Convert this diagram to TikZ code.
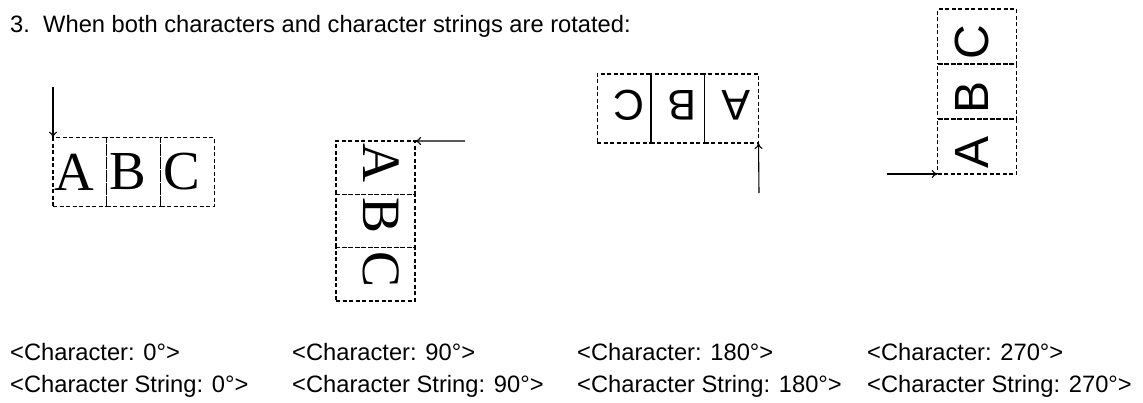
\documentclass[tikz,border=0pt]{standalone}
\usepackage{fontspec}
\setmainfont{Liberation Sans}
\newfontfamily\serifrm{Liberation Serif}
\usepackage{tikz}
\usetikzlibrary{arrows.meta,positioning}

\begin{document}
\begin{tikzpicture}[x=1pt, y=-1pt, >={To[length=6pt,width=8pt]},
    box/.style={rectangle, draw, line width=1.2pt, dash pattern=on 4pt off 2.5pt, inner sep=0pt, outer sep=0pt},
    wide/.style={box, minimum width=53.8pt, minimum height=68.5pt},
    tall/.style={box, minimum width=79pt, minimum height=54pt},
    serifch/.style={font=\serifrm\fontsize{55}{55}\selectfont, inner sep=0pt},
    sansch/.style={font=\fontsize{43}{43}\selectfont, inner sep=0pt},
    lbl/.style={font=\fontsize{23.7}{28}\selectfont, anchor=base west, inner sep=0pt},
    arr/.style={->, line width=1.1pt}]
    \useasboundingbox (0,0) rectangle (1143,402);

    \node [lbl] (num) at (10,32) {3.};
    \node [lbl] (title) at (43,32) {When both characters and character strings are rotated:};

    \node [wide] (a1) at (79.9,172) {};
    \node [wide, right=0pt of a1] (a2) {};
    \node [wide, right=0pt of a2] (a3) {};
    \node [serifch] (ta1) at ([xshift=-6pt]a1.center) {A};
    \node [serifch] (ta2) at ([xshift=-6pt]a2.center) {B};
    \node [serifch] (ta3) at ([xshift=-6pt]a3.center) {C};

    \node [tall, minimum height=53.3pt] (b1) at (375.5,167.7) {};
    \node [tall, minimum height=53.3pt, below=0pt of b1] (b2) {};
    \node [tall, minimum height=53.3pt, below=0pt of b2] (b3) {};
    \node [serifch, font=\serifrm\fontsize{54}{54}\selectfont, rotate=-90] (tb1) at ([xshift=5.5pt,yshift=5pt]b1.center) {A};
    \node [serifch, font=\serifrm\fontsize{54}{54}\selectfont, rotate=-90] (tb2) at ([xshift=5.5pt,yshift=5pt]b2.center) {B};
    \node [serifch, font=\serifrm\fontsize{54}{54}\selectfont, rotate=-90] (tb3) at ([xshift=5.5pt,yshift=5pt]b3.center) {C};

    \node [wide, minimum height=69pt] (c1) at (624,108.5) {};
    \node [wide, minimum height=69pt, right=0pt of c1] (c2) {};
    \node [wide, minimum height=69pt, right=0pt of c2] (c3) {};
    \draw [line width=1.1pt] (c1.north east) -- (c1.south east);
    \draw [line width=1.1pt] (c2.north east) -- (c2.south east);
    \node [sansch, rotate=180] (tc1) at ([xshift=4.5pt,yshift=3pt]c1.center) {C};
    \node [sansch, rotate=180] (tc2) at ([xshift=4.5pt,yshift=3pt]c2.center) {B};
    \node [sansch, rotate=180] (tc3) at ([xshift=4.5pt,yshift=3pt]c3.center) {A};

    \node [tall, minimum height=55pt] (d1) at (977.2,146.5) {};
    \node [tall, minimum height=55pt, above=0pt of d1] (d2) {};
    \node [tall, minimum height=55pt, above=0pt of d2] (d3) {};
    \node [sansch, font=\fontsize{48}{48}\selectfont, rotate=90] (td1) at ([xshift=-5pt,yshift=-6pt]d1.center) {A};
    \node [sansch, font=\fontsize{48}{48}\selectfont, rotate=90] (td2) at ([xshift=-5pt,yshift=-6pt]d2.center) {B};
    \node [sansch, font=\fontsize{48}{48}\selectfont, rotate=90] (td3) at ([xshift=-5pt,yshift=-6pt]d3.center) {C};

    \coordinate (pa) at (53,87);
    \coordinate (pb) at (465,141);
    \coordinate (pc) at (759,193);
    \coordinate (pd) at (887,174);
    \draw [arr] (pa) -- (a1.north west);
    \draw [arr] (pb) -- (b1.north east);
    \draw [arr] (pc) -- (c3.south east);
    \draw [arr] (pd) -- (d1.south west);

    \node [lbl] (la1) at (10,360) {<Character: 0°>};
    \node [lbl] (la2) at (10,392) {<Character String: 0°>};
    \node [lbl] (lb1) at (292,360) {<Character: 90°>};
    \node [lbl] (lb2) at (292,392) {<Character String: 90°>};
    \node [lbl] (lc1) at (577,360) {<Character: 180°>};
    \node [lbl] (lc2) at (577,392) {<Character String: 180°>};
    \node [lbl] (ld1) at (867,360) {<Character: 270°>};
    \node [lbl] (ld2) at (867,392) {<Character String: 270°>};
\end{tikzpicture}
\end{document}
